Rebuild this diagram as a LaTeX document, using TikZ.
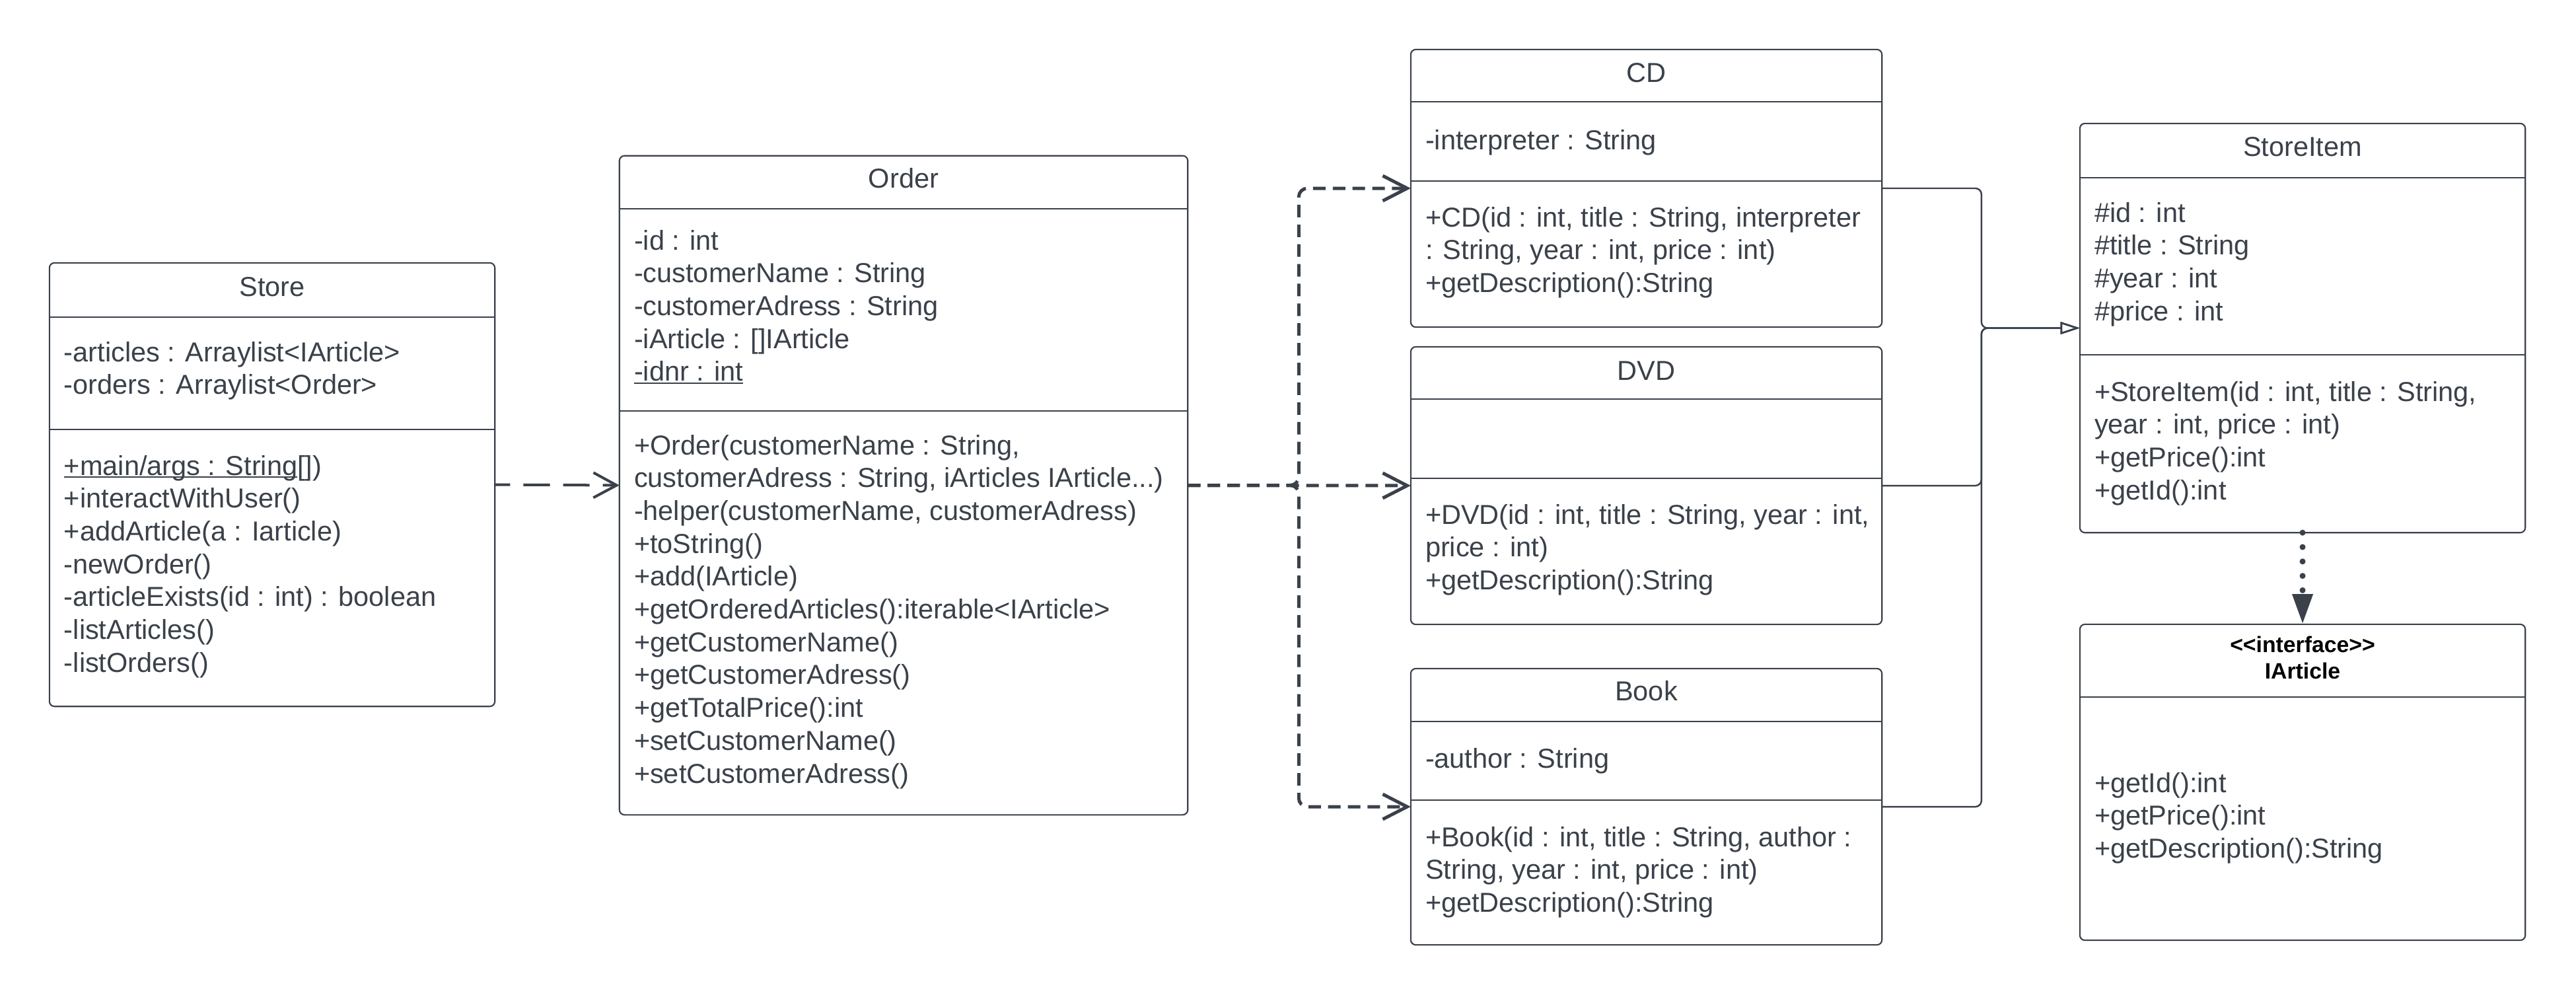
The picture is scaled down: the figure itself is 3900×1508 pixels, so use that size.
\documentclass[tikz,border=0pt]{standalone}
\usepackage{fontspec}
\setmainfont{Liberation Sans}[Ligatures=TeXOff]
\usetikzlibrary{arrows.meta}
\definecolor{ink}{HTML}{3A414A}
% underline that sits just under the baseline
\newcommand\ulin[1]{\setbox0=\hbox{#1}\rlap{\rule[-0.1em]{\wd0}{0.055em}}\box0}
\newcommand\threedots{...}
% member lines of a class compartment: name prefix, x, first baseline, list
\newcommand\members[4]{%
  \foreach \ln [count=\k from 0] in {#4} {\node[txt] (#1-\k) at (#2, #3+\k*49.7) {\ln};}}

\begin{document}
\begin{tikzpicture}[x=0.01cm,y=-0.01cm,
  cls/.style={draw=ink, line width=0.6pt, rounded corners=2.2pt, fill=white, inner sep=0pt, outer sep=0pt},
  divider/.style={draw=ink, line width=0.6pt},
  txt/.style={text=ink, inner sep=0pt, outer sep=0pt, anchor=base west, font=\fontsize{11.8}{14.2}\selectfont},
  ttl/.style={txt, anchor=base},
  ihead/.style={inner sep=0pt, anchor=base, font=\fontsize{9.6}{11.5}\selectfont\bfseries, text=black},
  uses/.style={draw=ink, line width=1.14pt, dash pattern=on 11.4pt off 5.7pt, dash phase=4.8pt,
    -{Straight Barb[length=10pt,width=10.8pt]}},
  dep/.style={draw=ink, line width=1.42pt, dash pattern=on 5.4pt off 3.1pt, rounded corners=3.7pt,
    -{Straight Barb[length=10.5pt,width=10.8pt]}},
  inh/.style={draw=ink, line width=0.7pt, rounded corners=2.6pt,
    -{Triangle[open,length=8.3pt,width=5.2pt]}},
  real/.style={draw=ink, line width=2.56pt, dash pattern=on 0pt off 6.2pt, line cap=round,
    -{Triangle[length=13pt,width=8.3pt]}},
]
\fill[white] (0,0) rectangle (3900,1508);
\useasboundingbox (0,0) rectangle (3900,1508);

% ---------- class boxes ----------
\node[cls, minimum width=6.74cm, minimum height=6.71cm] (Store)     at (412,733.5)  {};
\node[cls, minimum width=8.60cm, minimum height=9.97cm] (Order)     at (1368,734.5) {};
\node[cls, minimum width=7.13cm, minimum height=4.20cm] (CD)        at (2492.5,285) {};
\node[cls, minimum width=7.13cm, minimum height=4.20cm] (DVD)       at (2492.5,735) {};
\node[cls, minimum width=7.13cm, minimum height=4.18cm] (Book)      at (2492.5,1221) {};
\node[cls, minimum width=6.74cm, minimum height=6.19cm] (StoreItem) at (3486,496.5) {};
\node[cls, minimum width=6.74cm, minimum height=4.78cm] (IArticle)  at (3486,1184)  {};

% compartment dividers
\draw[divider] (75,480) -- (749,480);
\draw[divider] (75,650) -- (749,650);
\draw[divider] (938,316) -- (1798,316);
\draw[divider] (938,622) -- (1798,622);
\draw[divider] (2136,154) -- (2849,154);
\draw[divider] (2136,274) -- (2849,274);
\draw[divider] (2136,604) -- (2849,604);
\draw[divider] (2136,724) -- (2849,724);
\draw[divider] (2136,1092) -- (2849,1092);
\draw[divider] (2136,1211) -- (2849,1211);
\draw[divider] (3149,269) -- (3823,269);
\draw[divider] (3149,537) -- (3823,537);
\draw[divider] (3149,1055) -- (3823,1055);

% ---------- titles ----------
\node[ttl] (Store-t)     at (412,448)    {Store};
\node[ttl] (Order-t)     at (1368,284)   {Order};
\node[ttl] (CD-t)        at (2492.5,124) {CD};
\node[ttl] (DVD-t)       at (2492.5,575) {DVD};
\node[ttl] (Book-t)      at (2492.5,1060) {Book};
\node[ttl] (StoreItem-t) at (3486,236)   {StoreItem};
\node[ihead] (IArticle-s) at (3486,987)  {<<interface>>};
\node[ihead] (IArticle-t) at (3486,1027) {IArticle};

% ---------- members ----------
\members{Store-a}{97}{547}{{-articles : Arraylist<IArticle>},{-orders : Arraylist<Order>}}
\members{Store-m}{97}{719}{{\ulin{+main/args : String}[])},{+interactWithUser()},
  {+addArticle(a : Iarticle)},{-newOrder()},{-articleExists(id : int) : boolean},
  {-listArticles()},{-listOrders()}}

\members{Order-a}{960}{378}{{-id : int},{-customerName : String},{-customerAdress : String},
  {-iArticle : []IArticle},{\ulin{-idnr : int}}}
\members{Order-m}{960}{688}{{+Order(customerName : String,},
  {customerAdress : String, iArticles IArticle\threedots)},
  {-helper(customerName, customerAdress)},{+toString()},{+add(IArticle)},
  {+getOrderedArticles():iterable<IArticle>},{+getCustomerName()},{+getCustomerAdress()},
  {+getTotalPrice():int},{+setCustomerName()},{+setCustomerAdress()}}

\members{CD-a}{2158}{226}{{-interpreter : String}}
\members{CD-m}{2158}{343}{{+CD(id : int, title : String, interpreter},
  {: String, year : int, price : int)},{+getDescription():String}}

\members{DVD-m}{2158}{793}{{+DVD(id : int, title : String, year : int,},
  {price : int)},{+getDescription():String}}

\members{Book-a}{2158}{1162}{{-author : String}}
\members{Book-m}{2158}{1281}{{+Book(id : int, title : String, author :},
  {String, year : int, price : int)},{+getDescription():String}}

\members{StoreItem-a}{3171}{336}{{\#id : int},{\#title : String},{\#year : int},{\#price : int}}
\members{StoreItem-m}{3171}{607}{{+StoreItem(id : int, title : String,},
  {year : int, price : int)},{+getPrice():int},{+getId():int}}

\members{IArticle-m}{3171}{1199}{{+getId():int},{+getPrice():int},{+getDescription():String}}

% ---------- connectors ----------
\path (Order.east) ++(168,0) coordinate (fork);
\path (StoreItem.west) ++(-149,0) coordinate (merge);

\draw[uses] (Store.east) -- (Order.west);

\draw[dep] (Order.east) -- (DVD.west);
\draw[dep] (Order.east) -- (fork) |- (CD.west);
\draw[dep] (Order.east) -- (fork) |- (Book.west);

\draw[inh] (CD.east) -| (merge) -- (StoreItem.west);
\draw[inh] (DVD.east) -| (merge) -- (StoreItem.west);
\draw[inh] (Book.east) -| (merge) -- (StoreItem.west);

\draw[real] (StoreItem.south) -- (IArticle.north);
\end{tikzpicture}
\end{document}
